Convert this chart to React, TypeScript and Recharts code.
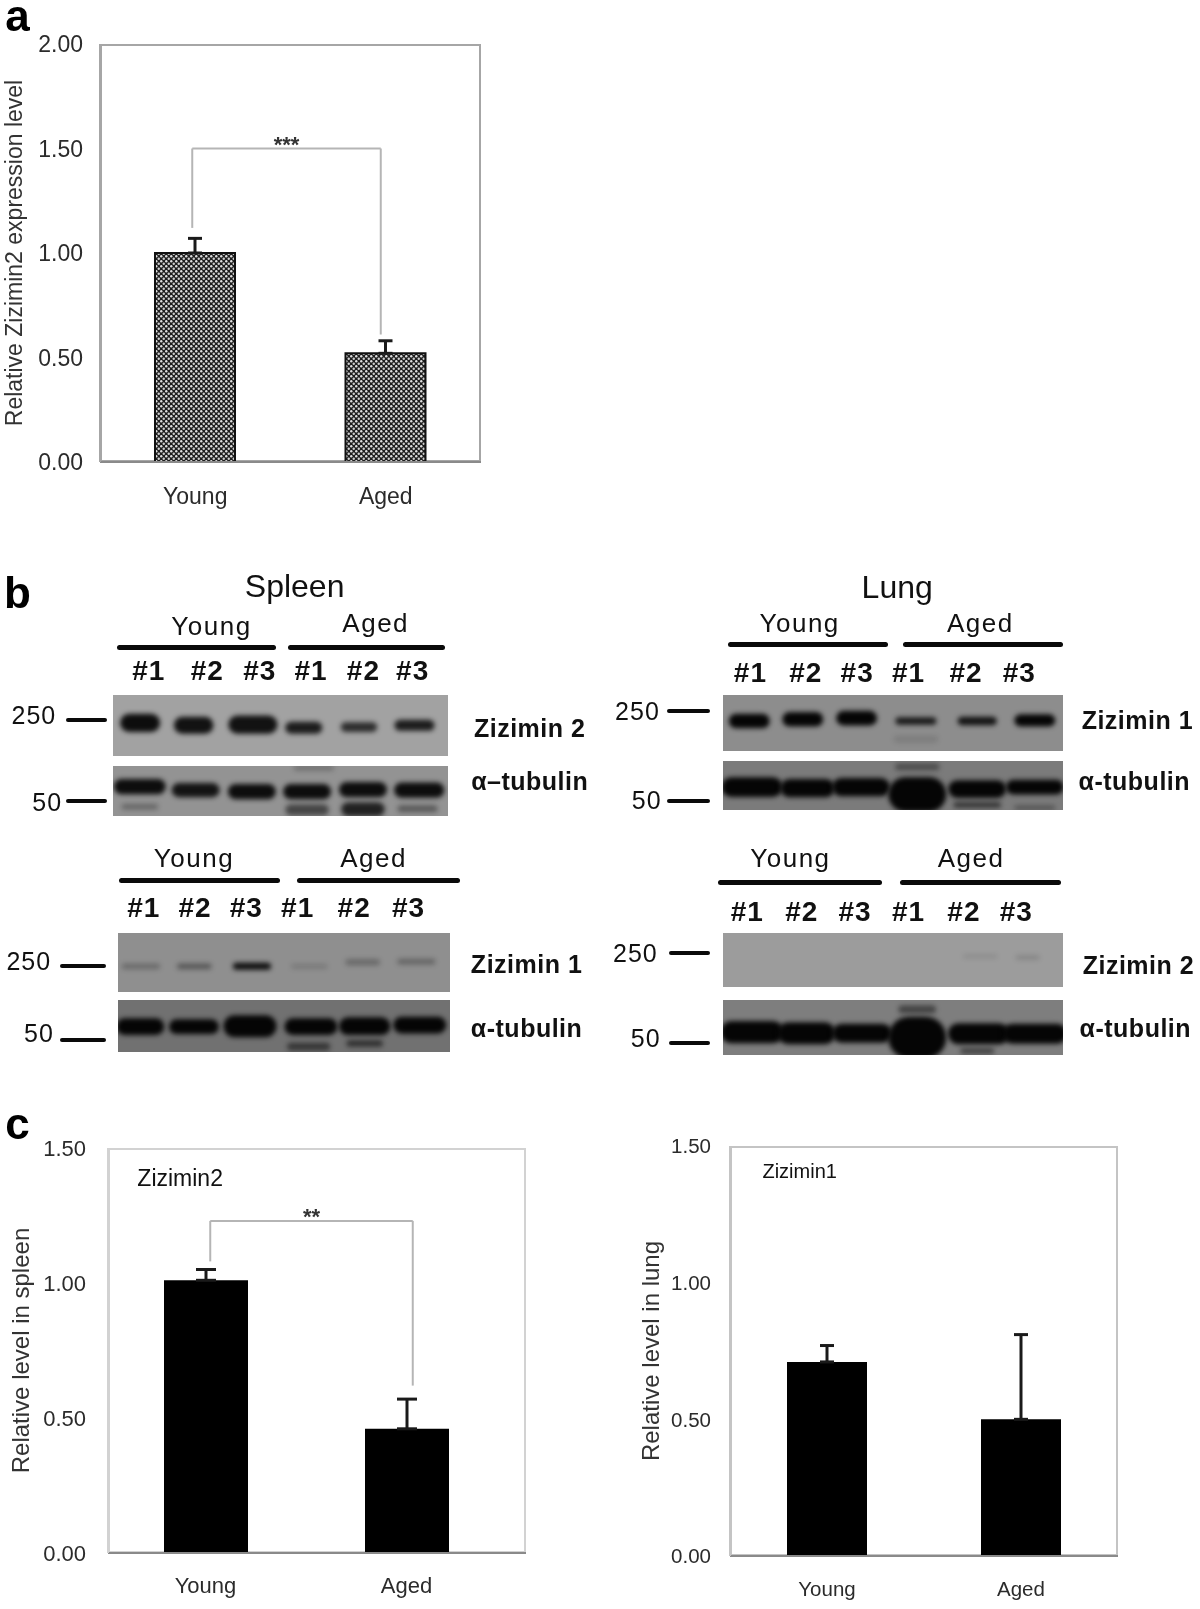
import React from 'react';
import { BarChart, Bar, XAxis, YAxis, ErrorBar, ReferenceLine, ScatterChart, Scatter } from 'recharts';

const groups = ['Young', 'Aged'];

// panel a
const agedChartValues = [1.0, 0.52];
const agedChartErrors = [0.07, 0.06];
const agedChartTicks = [0, 0.5, 1, 1.5, 2];
const agedBracket = [1.5, 1.12, 0.61];

// panel c, spleen
const spleenValues = [1.01, 0.46];
const spleenErrors = [0.04, 0.11];
const spleenBracket = [1.23, 1.08, 0.62];

// panel c, lung
const lungValues = [0.71, 0.5];
const lungErrors = [0.06, 0.31];
const cTicks = [0, 0.5, 1, 1.5];

// blots: [lane %, migration %, span %, thickness %, density]
type Band = number[];
const spleenZ2: Band[] = [
  [8.1, 46, 12, 30, 0.95], [24.1, 50, 11.8, 28, 0.92], [41.8, 49, 14.7, 30, 0.92],
  [57, 54, 11.1, 20, 0.85], [73.5, 53, 10.9, 16, 0.75], [90.1, 50, 12, 18, 0.85],
];
const spleenTub1: Band[] = [
  [8, 41, 15.5, 30, 0.95], [24.7, 48, 14.3, 28, 0.9], [41.5, 51, 14.3, 30, 0.95],
  [58, 51, 14.3, 30, 0.95], [74.7, 47, 14.3, 30, 0.95], [91.5, 48, 15, 30, 0.95],
  [8, 81, 11, 12, 0.3], [58, 87, 13, 22, 0.55], [74.7, 86, 13, 28, 0.8], [91, 85, 12, 14, 0.4],
  [60, 4, 12, 10, 0.25],
];
const spleenZ1: Band[] = [
  [6.9, 57, 11.5, 9, 0.28], [23, 57, 10.4, 10, 0.4], [40.4, 57, 11.5, 12, 0.95],
  [57.7, 57, 11, 8, 0.16], [73.8, 50, 10.4, 10, 0.28], [90, 49, 11.5, 10, 0.3],
];
const spleenTub2: Band[] = [
  [6.7, 51, 14.5, 32, 1], [22.9, 51, 15, 28, 1], [39.8, 50, 16, 42, 1],
  [58.2, 51, 16, 32, 1], [74.4, 50, 15.5, 34, 1], [91, 48, 16, 32, 1],
  [57.5, 89, 13, 15, 0.55], [74.4, 83, 11, 13, 0.6],
];
const lungZ1: Band[] = [
  [7.7, 46, 12, 26, 1], [23.4, 43, 12, 26, 1], [39.2, 41, 12, 26, 1],
  [56.6, 46, 12, 13, 0.85], [74.6, 46, 11.5, 15, 0.9], [91.5, 45, 12, 22, 1],
  [56.6, 78, 13, 12, 0.12],
];
const lungTub1: Band[] = [
  [8.5, 53, 18, 40, 1], [24.8, 55, 16, 37, 1], [40.5, 53, 17, 37, 1],
  [57, 68, 17, 70, 1], [74.6, 57, 17, 36, 1], [91.5, 53, 17, 30, 1],
  [57, 12, 13, 14, 0.4], [74.6, 89, 14, 12, 0.6], [91.5, 95, 12, 9, 0.35],
];
const lungZ2: Band[] = [
  [75.5, 43, 10, 6, 0.12], [89.4, 45, 7, 7, 0.16],
];
const lungTub2: Band[] = [
  [8.5, 58, 18.5, 40, 1], [24.5, 60, 17, 40, 1], [40.8, 60, 17.5, 34, 1],
  [57, 68, 17, 76, 1], [75, 61, 18, 38, 1], [91.5, 61, 19, 36, 1],
  [57, 17, 11, 14, 0.5], [74.6, 92, 10, 11, 0.5],
];

const k = 1200 / 1169;
const sans = '"Liberation Sans", Arial, sans-serif';

const Txt = ({ x, y, size, bold, spacing, color, leading, children }: any) => (
  <div style={{
    position: 'absolute', left: x * k, top: y * k, transform: 'translate(-50%, -50%)',
    fontFamily: sans, fontSize: size, fontWeight: bold ? 'bold' : 'normal', letterSpacing: spacing || 0,
    color: color || '#111', whiteSpace: 'nowrap', lineHeight: leading || 1,
  }}>{children}</div>
);

const Rule = ({ x1, x2, y, h = 5 }: any) => (
  <div style={{
    position: 'absolute', left: x1 * k, width: (x2 - x1) * k, top: y * k - h / 2, height: h,
    background: '#0a0a0a', borderRadius: h / 2,
  }} />
);

// a single blot strip, bands are placed by the chart's own axes
const Blot = ({ x1, x2, y1, y2, bg, bands }: any) => {
  const w = (x2 - x1) * k;
  const h = (y2 - y1) * k;
  const rows = bands.map((b: Band) => ({ lane: b[0], pos: b[1], span: b[2], thick: b[3], density: b[4] }));
  const drawBand = (p: any) => {
    const bw = (p.payload.span / 100) * w;
    const bh = (p.payload.thick / 100) * h;
    return (
      <rect
        x={p.cx - bw / 2} y={p.cy - bh / 2} width={bw} height={bh} rx={bh / 2}
        fill="#050505" fillOpacity={p.payload.density} style={{ filter: 'blur(2.4px)' }}
      />
    );
  };
  return (
    <div style={{ position: 'absolute', left: x1 * k, top: y1 * k, width: w, height: h, background: bg, overflow: 'hidden' }}>
      <ScatterChart width={w} height={h} margin={{ top: 0, right: 0, bottom: 0, left: 0 }}>
        <XAxis type="number" dataKey="lane" domain={[0, 100]} hide />
        <YAxis type="number" dataKey="pos" domain={[0, 100]} reversed hide />
        <Scatter data={rows} shape={drawBand} isAnimationActive={false} />
      </ScatterChart>
    </div>
  );
};

const Lanes = ({ y, xs }: any) => (
  <>
    {xs.map((x: number, i: number) => (
      <Txt key={i} x={x} y={y} size={28} bold spacing={1}>#{i < 3 ? i + 1 : i - 2}</Txt>
    ))}
  </>
);

const BarPanel = (props: any) => {
  const { left, top, width, height, plotLeft, plotRight, plotTop, plotBottom, values, errors, ticks, domainMax,
    label, bracket, stars, fill, barSize, capWidth, fontSize, labelSize, frame, pad, bracketPad, labelDx, barStroke, tickGap, xGap } = props;
  const rows = groups.map((g, i) => ({ group: g, value: values[i], err: [0, errors[i]] }));
  const tickStyle = { fontSize, fill: '#2b2b2b', fontFamily: sans };
  const lineColor = '#b5b5b5';
  return (
    <div style={{ position: 'absolute', left, top, width, height }}>
      <div style={{
        position: 'absolute', left: plotLeft, top: plotTop, width: plotRight - plotLeft, height: plotBottom - plotTop,
        border: `2px solid ${frame}`, boxSizing: 'border-box',
      }} />
      <BarChart width={width} height={height} data={rows} margin={{ top: plotTop, right: width - plotRight, bottom: 0, left: 0 }}>
        {props.children}
        <XAxis
          dataKey="group" height={height - plotBottom} tickLine={false} tick={tickStyle} tickMargin={xGap}
          axisLine={{ stroke: '#8a8a8a', strokeWidth: 2 }} padding={pad || { left: 0, right: 0 }}
        />
        {bracket && <XAxis xAxisId="bracket" dataKey="group" hide padding={bracketPad} />}
        <YAxis
          type="number" domain={[0, domainMax]} ticks={ticks} width={plotLeft} tickLine={false} tick={tickStyle} tickMargin={tickGap}
          axisLine={{ stroke: frame, strokeWidth: 2 }} tickFormatter={(v: number) => v.toFixed(2)}
          label={{
            value: label, angle: -90, position: 'insideLeft', dx: labelDx, fontSize: labelSize, fill: '#333',
            fontFamily: sans, style: { textAnchor: 'middle' },
          }}
        />
        <Bar dataKey="value" fill={fill} stroke={barStroke} strokeWidth={barStroke ? 2 : 0} barSize={barSize} isAnimationActive={false}>
          <ErrorBar dataKey="err" direction="y" width={capWidth} stroke="#1a1a1a" strokeWidth={3} />
        </Bar>
        {bracket && (
          <ReferenceLine
            xAxisId="bracket"
            segment={[{ x: groups[0], y: bracket[0] }, { x: groups[1], y: bracket[0] }]}
            stroke={lineColor} strokeWidth={2}
            label={{ value: stars, position: 'top', fontSize: 22, fontWeight: 'bold', fill: '#333', fontFamily: sans, dy: 8 }}
          />
        )}
        {bracket && (
          <ReferenceLine xAxisId="bracket" segment={[{ x: groups[0], y: bracket[0] }, { x: groups[0], y: bracket[1] }]} stroke={lineColor} strokeWidth={2} />
        )}
        {bracket && (
          <ReferenceLine xAxisId="bracket" segment={[{ x: groups[1], y: bracket[0] }, { x: groups[1], y: bracket[2] }]} stroke={lineColor} strokeWidth={2} />
        )}
      </BarChart>
    </div>
  );
};

export default function App() {
  return (
    <div style={{ position: 'absolute', left: 0, top: 0, width: 1200, height: 1609, background: '#fff', overflow: 'hidden', filter: 'blur(0.5px)' }}>
      <Txt x={17} y={16} size={44} bold color="#000" leading={0.7}>a</Txt>
      <Txt x={17} y={578} size={44} bold color="#000">b</Txt>
      <Txt x={17} y={1095} size={44} bold color="#000">c</Txt>

      <BarPanel
        left={0} top={0} width={520} height={530} plotLeft={100} plotRight={481} plotTop={44} plotBottom={462}
        values={agedChartValues} errors={agedChartErrors} ticks={agedChartTicks} domainMax={2}
        label="Relative Zizimin2 expression level" bracket={agedBracket} bracketPad={{ left: -2, right: 6 }} stars="***"
        fill="url(#dots)" barStroke="#111" barSize={80} capWidth={7} fontSize={23} labelSize={23} frame="#a6a6a6" labelDx={9} tickGap={11} xGap={20}
      >
        <defs>
          <pattern id="dots" width="5" height="5" patternUnits="userSpaceOnUse">
            <rect width="5" height="5" fill="#1e1e1e" />
            <circle cx="1.25" cy="1.25" r="1.2" fill="#e0e0e0" />
            <circle cx="3.75" cy="3.75" r="1.2" fill="#d0d0d0" />
          </pattern>
        </defs>
      </BarPanel>

      <Txt x={287} y={571} size={32}>Spleen</Txt>
      <Txt x={206} y={610} size={26} spacing={1.5}>Young</Txt>
      <Txt x={366} y={607} size={26} spacing={1.5}>Aged</Txt>
      <Rule x1={114} x2={269} y={631} />
      <Rule x1={281} x2={434} y={631} />
      <Lanes y={654} xs={[145, 202, 253, 303, 354, 402]} />
      <Txt x={33} y={697} size={25} spacing={1}>250</Txt>
      <Rule x1={64} x2={104} y={701} h={4} />
      <Txt x={46} y={781} size={25} spacing={1}>50</Txt>
      <Rule x1={64} x2={104} y={780} h={4} />
      <Blot x1={110} x2={436} y1={677} y2={736} bg="#a2a2a2" bands={spleenZ2} />
      <Blot x1={110} x2={436} y1={746} y2={795} bg="#939393" bands={spleenTub1} />
      <Txt x={516} y={709} size={25} bold spacing={0.5}>Zizimin 2</Txt>
      <Txt x={516} y={761} size={25} bold spacing={0.5}>α–tubulin</Txt>

      <Txt x={189} y={836} size={26} spacing={1.5}>Young</Txt>
      <Txt x={364} y={836} size={26} spacing={1.5}>Aged</Txt>
      <Rule x1={116} x2={273} y={858} />
      <Rule x1={289} x2={448} y={858} />
      <Lanes y={885} xs={[140, 190, 240, 290, 345, 398]} />
      <Txt x={28} y={936} size={25} spacing={1}>250</Txt>
      <Rule x1={58} x2={103} y={941} h={4} />
      <Txt x={38} y={1006} size={25} spacing={1}>50</Txt>
      <Rule x1={58} x2={103} y={1013} h={4} />
      <Blot x1={115} x2={438} y1={909} y2={966} bg="#8f8f8f" bands={spleenZ1} />
      <Blot x1={115} x2={438} y1={974} y2={1025} bg="#717171" bands={spleenTub2} />
      <Txt x={513} y={939} size={25} bold spacing={0.5}>Zizimin 1</Txt>
      <Txt x={513} y={1001} size={25} bold spacing={0.5}>α-tubulin</Txt>

      <Txt x={874} y={572} size={32}>Lung</Txt>
      <Txt x={779} y={607} size={26} spacing={1.5}>Young</Txt>
      <Txt x={955} y={607} size={26} spacing={1.5}>Aged</Txt>
      <Rule x1={709} x2={865} y={628} />
      <Rule x1={880} x2={1036} y={628} />
      <Lanes y={656} xs={[731, 785, 835, 885, 941, 993]} />
      <Txt x={621} y={693} size={25} spacing={1}>250</Txt>
      <Rule x1={650} x2={692} y={693} h={4} />
      <Txt x={630} y={779} size={25} spacing={1}>50</Txt>
      <Rule x1={650} x2={692} y={780} h={4} />
      <Blot x1={704} x2={1036} y1={677} y2={732} bg="#8d8d8d" bands={lungZ1} />
      <Blot x1={704} x2={1036} y1={741} y2={789} bg="#7b7b7b" bands={lungTub1} />
      <Txt x={1108} y={701} size={25} bold spacing={0.5}>Zizimin 1</Txt>
      <Txt x={1105} y={761} size={25} bold spacing={0.5}>α-tubulin</Txt>

      <Txt x={770} y={836} size={26} spacing={1.5}>Young</Txt>
      <Txt x={946} y={836} size={26} spacing={1.5}>Aged</Txt>
      <Rule x1={699} x2={859} y={860} />
      <Rule x1={877} x2={1034} y={860} />
      <Lanes y={888} xs={[728, 781, 833, 885, 939, 990]} />
      <Txt x={619} y={928} size={25} spacing={1}>250</Txt>
      <Rule x1={652} x2={692} y={928} h={4} />
      <Txt x={629} y={1011} size={25} spacing={1}>50</Txt>
      <Rule x1={652} x2={692} y={1016} h={4} />
      <Blot x1={704} x2={1036} y1={909} y2={962} bg="#9c9c9c" bands={lungZ2} />
      <Blot x1={704} x2={1036} y1={974} y2={1028} bg="#7e7e7e" bands={lungTub2} />
      <Txt x={1109} y={940} size={25} bold spacing={0.5}>Zizimin 2</Txt>
      <Txt x={1106} y={1001} size={25} bold spacing={0.5}>α-tubulin</Txt>

      <BarPanel
        left={0} top={1120} width={560} height={489} plotLeft={108} plotRight={526} plotTop={28} plotBottom={433}
        values={spleenValues} errors={spleenErrors} ticks={cTicks} domainMax={1.5}
        label="Relative level in spleen" bracket={spleenBracket} bracketPad={{ left: 1, right: 12 }} stars="**" fill="#000"
        barSize={84} capWidth={10} fontSize={22} labelSize={24} frame="#d2d2d2" pad={{ left: -3, right: 19 }} labelDx={15} tickGap={16} xGap={18}
      />
      <Txt x={175.5} y={1148} size={23}>Zizimin2</Txt>

      <BarPanel
        left={620} top={1120} width={540} height={489} plotLeft={110} plotRight={498} plotTop={26} plotBottom={436}
        values={lungValues} errors={lungErrors} ticks={cTicks} domainMax={1.5}
        label="Relative level in lung" fill="#000"
        barSize={80} capWidth={7} fontSize={20.5} labelSize={24} frame="#c4c4c4" labelDx={25} tickGap={13} xGap={19}
      />
      <Txt x={779} y={1141} size={20}>Zizimin1</Txt>
    </div>
  );
}
